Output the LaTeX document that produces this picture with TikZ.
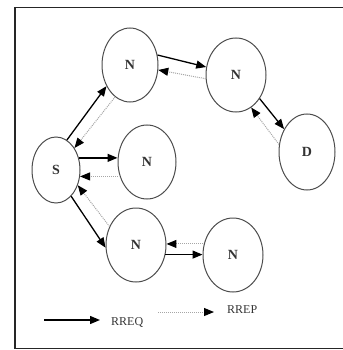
\documentclass[tikz,border=0pt]{standalone}
\usepackage{fontspec}
\setmainfont{Liberation Serif}
\usetikzlibrary{arrows.meta,shapes.geometric}
\begin{document}
\begin{tikzpicture}[x=1pt,y=-1pt,
  nd/.style={draw=black!70, line width=1pt, ellipse, inner sep=0pt, font=\fontsize{14}{14}\selectfont\bfseries, text=black!80},
  req/.style={draw=black, line width=1.3pt, -{Triangle[length=10pt,width=8pt]}},
  rep/.style={draw=black!35, line width=1pt, densely dotted, -{Triangle[length=10pt,width=8pt,color=black]}},
  lbl/.style={font=\fontsize{12}{12}\selectfont, anchor=west, inner sep=0pt, text=black!80}]
\useasboundingbox (0,0) rectangle (342,350);
\draw[line width=1.6pt, black!85] (345,7.5) -- (15,7.5) -- (15,348.5) -- (345,348.5);
\node[nd, minimum width=56pt, minimum height=74pt] (n1) at (130,65) {N};
\node[nd, minimum width=60pt, minimum height=74pt] (n2) at (236,75) {N};
\node[nd, minimum width=56pt, minimum height=76pt] (d) at (307,152) {D};
\node[nd, minimum width=48pt, minimum height=66pt] (s) at (56,170) {S};
\node[nd, minimum width=58pt, minimum height=74pt] (n3) at (147,162) {N};
\node[nd, minimum width=60pt, minimum height=74pt] (n4) at (136,245) {N};
\node[nd, minimum width=60pt, minimum height=74pt] (n5) at (233,255) {N};
% S <-> N1
\draw[req] (s.70) -- (n1.222);
\draw[rep] (n1.245) -- (s.50);
% N1 <-> N2
\draw[req] (n1.20) -- (n2.165);
\draw[rep] (n2.187) -- (n1.350);
% N2 <-> D
\draw[req] (n2.-45) -- (d.135);
\draw[rep] (d.165) -- (n2.-65);
% S <-> N3
\draw[req] (s.28) -- (s.28 -| n3.west);
\draw[rep] (n3.west |- s.-15) -- (s.-15);
% S <-> N4
\draw[req] (s.-60) -- (n4.185);
\draw[rep] (n4.145) -- (s.-35);
% N4 <-> N5
\draw[req] (n4.-18) -- (n4.-18 -| n5.west);
\draw[rep] (n5.west |- n4.2) -- (n4.2);
% legend
\coordinate (l1a) at (44,320);
\coordinate (l1b) at (100,320);
\coordinate (l2a) at (158,312);
\coordinate (l2b) at (214,312);
\draw[req] (l1a) -- (l1b);
\draw[rep] (l2a) -- (l2b);
\node[lbl] (t1) at (111,322) {RREQ};
\node[lbl] (t2) at (227,310) {RREP};
\end{tikzpicture}
\end{document}
